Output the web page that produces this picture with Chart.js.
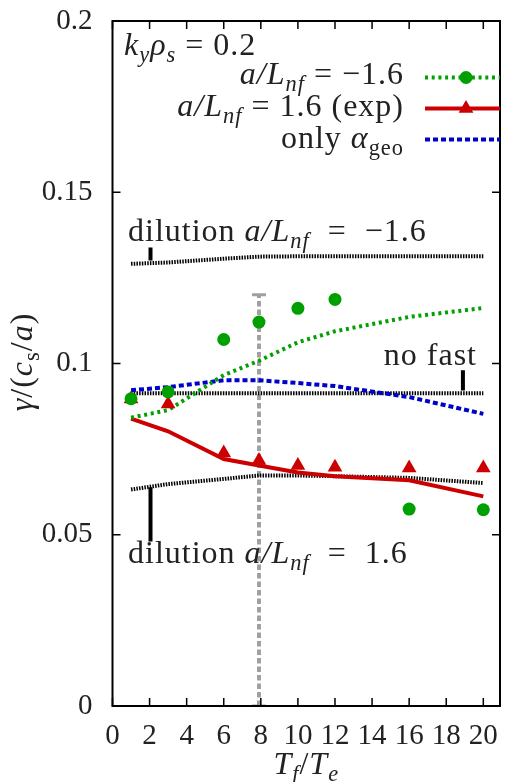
<!DOCTYPE html>
<html>
<head>
<meta charset="utf-8">
<script src="https://cdn.jsdelivr.net/npm/chart.js@4.4.1/dist/chart.umd.min.js"></script>
<style>
  html, body { margin: 0; padding: 0; background: #fff; }
</style>
</head>
<body>
<canvas id="growthChart" width="510" height="782"></canvas>
<script>
// ----- values -----
const tfOverTe = [1, 3, 6, 7.9, 10, 12, 16, 20];

// a/L_nf = -1.6 : line and simulation points
const gammaNegLine = [0.0842, 0.0864, 0.0966, 0.1008, 0.1062, 0.1094, 0.1136, 0.1162];
const gammaNegPts  = [0.0897, 0.0917, 0.1070, 0.1121, 0.1161, 0.1187, 0.0575, 0.0573];

// a/L_nf = 1.6 (exp) : line and simulation points
const gammaExpLine = [0.0839, 0.0802, 0.0721, 0.0702, 0.0682, 0.0671, 0.0659, 0.0612];
const gammaExpPts  = [0.0896, 0.0882, 0.0739, 0.0717, 0.0702, 0.0697, 0.0695, 0.0695];

// only alpha_geo
const gammaGeo = [0.0922, 0.0931, 0.0951, 0.0951, 0.0943, 0.0934, 0.0902, 0.0853];

// reference lines (black dotted)
const gammaNoFast  = [0.0913, 0.0913, 0.0913, 0.0913, 0.0913, 0.0913, 0.0913, 0.0913];
const gammaDilNeg  = [0.1291, 0.1295, 0.1306, 0.1312, 0.1313, 0.1313, 0.1313, 0.1313];
const gammaDilPos  = [0.0632, 0.0648, 0.0663, 0.0673, 0.0673, 0.0671, 0.0666, 0.0651];

// experimental T_f/T_e marker (grey dashed, with caps)
const expMarkX = [7.9, 7.9];
const expMarkY = [0, 0.1201];

// little pointer bars next to the labels
const ptrDilNegX = [2.05, 2.05], ptrDilNegY = [0.1301, 0.1339];
const ptrNoFastX = [18.9, 18.9], ptrNoFastY = [0.0921, 0.0980];
const ptrDilPosX = [2.05, 2.05], ptrDilPosY = [0.0480, 0.0639];

// axes
const xTicks = [0, 2, 4, 6, 8, 10, 12, 14, 16, 18, 20];
const yTicks = [0, 0.05, 0.1, 0.15, 0.2];
const yTickLabels = ['0', '0.05', '0.1', '0.15', '0.2'];

// ----- colours -----
const GREEN = '#00a000';
const RED = '#cc0000';
const BLUE = '#0000cc';
const GREY = '#a0a0a0';
const INK = '#222';
const SERIF = '"Liberation Serif", "Times New Roman", serif';

const pts = (xs, ys) => xs.map((x, i) => ({ x: x, y: ys[i] }));

// draw a run of text pieces, some italic, some subscript
function drawRich(ctx, parts, x, y, align, size) {
  const fontFor = p => (p.it ? 'italic ' : '') + (p.sub ? size * 0.7 : size) + 'px ' + SERIF;
  let w = 0;
  parts.forEach(p => { ctx.font = fontFor(p); w += ctx.measureText(p.t).width; });
  let cx = align === 'right' ? x - w : align === 'center' ? x - w / 2 : x;
  ctx.textAlign = 'left';
  ctx.textBaseline = 'alphabetic';
  parts.forEach(p => {
    ctx.font = fontFor(p);
    ctx.fillText(p.t, cx, y + (p.sub ? size * 0.22 : 0));
    cx += ctx.measureText(p.t).width;
  });
}

const legendItems = [
  { parts: [{ t: 'a/L', it: true }, { t: 'nf', it: true, sub: true }, { t: ' = −1.6' }],
    color: GREEN, width: 4, dash: [3, 3.7], marker: 'circle', y: 77.5, base: 84 },
  { parts: [{ t: 'a/L', it: true }, { t: 'nf', it: true, sub: true }, { t: ' = 1.6 (exp)' }],
    color: RED, width: 4, dash: [], marker: 'triangle', y: 108.5, base: 116 },
  { parts: [{ t: 'only ' }, { t: 'α', it: true }, { t: 'geo', sub: true }],
    color: BLUE, width: 4, dash: [5, 3], marker: null, y: 139.5, base: 148 }
];

const framePlugin = {
  id: 'frame',
  afterDatasetsDraw(chart) {
    const ctx = chart.ctx;
    const a = chart.chartArea;
    const xs = chart.scales.x, ys = chart.scales.y;
    ctx.save();

    // box
    ctx.strokeStyle = '#000';
    ctx.lineWidth = 2;
    ctx.setLineDash([]);
    ctx.strokeRect(a.left, a.top, a.right - a.left, a.bottom - a.top);

    // inward ticks on all four sides
    ctx.lineWidth = 1.5;
    ctx.beginPath();
    xTicks.forEach(v => {
      const px = xs.getPixelForValue(v);
      ctx.moveTo(px, a.bottom); ctx.lineTo(px, a.bottom - 8);
      ctx.moveTo(px, a.top); ctx.lineTo(px, a.top + 8);
    });
    yTicks.forEach(v => {
      const py = ys.getPixelForValue(v);
      ctx.moveTo(a.left, py); ctx.lineTo(a.left + 8, py);
      ctx.moveTo(a.right, py); ctx.lineTo(a.right - 8, py);
    });
    ctx.stroke();

    // texts
    ctx.fillStyle = INK;
    ctx.letterSpacing = '1px';
    drawRich(ctx, [{ t: 'k', it: true }, { t: 'y', it: true, sub: true }, { t: 'ρ', it: true },
      { t: 's', it: true, sub: true }, { t: ' = 0.2' }], 124, 55, 'left', 32);
    drawRich(ctx, [{ t: 'dilution ' }, { t: 'a/L', it: true }, { t: 'nf', it: true, sub: true },
      { t: '  =  −1.6' }], 128, 241, 'left', 32);
    drawRich(ctx, [{ t: 'dilution ' }, { t: 'a/L', it: true }, { t: 'nf', it: true, sub: true },
      { t: '  =  1.6' }], 128, 563, 'left', 32);
    drawRich(ctx, [{ t: 'no fast' }], 477, 365, 'right', 32);

    // legend
    legendItems.forEach(it => {
      ctx.fillStyle = INK;
      drawRich(ctx, it.parts, 404, it.base, 'right', 32);
      ctx.strokeStyle = it.color;
      ctx.lineWidth = it.width;
      ctx.setLineDash(it.dash);
      ctx.beginPath();
      ctx.moveTo(425, it.y);
      ctx.lineTo(a.right, it.y);
      ctx.stroke();
      ctx.setLineDash([]);
      ctx.fillStyle = it.color;
      if (it.marker === 'circle') {
        ctx.beginPath();
        ctx.arc(466, it.y, 6.5, 0, Math.PI * 2);
        ctx.fill();
      } else if (it.marker === 'triangle') {
        const r = 8.5;
        ctx.beginPath();
        ctx.moveTo(466, it.y - r);
        ctx.lineTo(466 + r * 0.866, it.y + r / 2);
        ctx.lineTo(466 - r * 0.866, it.y + r / 2);
        ctx.closePath();
        ctx.fill();
      }
    });

    // axis titles
    ctx.fillStyle = INK;
    drawRich(ctx, [{ t: 'T', it: true }, { t: 'f', it: true, sub: true }, { t: '/' },
      { t: 'T', it: true }, { t: 'e', it: true, sub: true }], (a.left + a.right) / 2, 774, 'center', 32);
    ctx.save();
    ctx.translate(32, 362);
    ctx.rotate(-Math.PI / 2);
    drawRich(ctx, [{ t: 'γ', it: true }, { t: '/(' }, { t: 'c', it: true }, { t: 's', sub: true },
      { t: '/' }, { t: 'a', it: true }, { t: ')' }], 0, 0, 'center', 32);
    ctx.restore();

    ctx.restore();
  }
};

const lineSet = (label, ys, color, width, dash, order) => ({
  label: label,
  data: pts(tfOverTe, ys),
  showLine: true,
  borderColor: color,
  borderWidth: width,
  borderDash: dash,
  pointRadius: 0,
  fill: false,
  tension: 0,
  order: order
});

const ptrSet = (label, xs, ys) => ({
  label: label,
  data: pts(xs, ys),
  showLine: true,
  borderColor: '#000',
  borderWidth: 4,
  pointRadius: 0,
  order: 6
});

new Chart(document.getElementById('growthChart').getContext('2d'), {
  type: 'scatter',
  data: {
    datasets: [
      {
        label: 'a/Lnf = -1.6 (points)',
        data: pts(tfOverTe, gammaNegPts),
        showLine: false,
        pointStyle: 'circle',
        pointRadius: 6.5,
        pointBackgroundColor: GREEN,
        pointBorderWidth: 0,
        order: 1
      },
      {
        label: 'a/Lnf = 1.6 (exp) (points)',
        data: pts(tfOverTe, gammaExpPts),
        showLine: false,
        pointStyle: 'triangle',
        pointRadius: 8.5,
        pointBackgroundColor: RED,
        pointBorderWidth: 0,
        order: 2
      },
      lineSet('a/Lnf = -1.6', gammaNegLine, GREEN, 4, [3, 3.7], 3),
      lineSet('a/Lnf = 1.6 (exp)', gammaExpLine, RED, 4, [], 4),
      lineSet('only alpha_geo', gammaGeo, BLUE, 4, [5, 3], 5),
      lineSet('no fast', gammaNoFast, '#000', 4, [1.5, 1.2], 6),
      lineSet('dilution -1.6', gammaDilNeg, '#000', 4, [1.5, 1.2], 6),
      lineSet('dilution 1.6', gammaDilPos, '#000', 4, [1.5, 1.2], 6),
      ptrSet('ptr dilution -1.6', ptrDilNegX, ptrDilNegY),
      ptrSet('ptr no fast', ptrNoFastX, ptrNoFastY),
      ptrSet('ptr dilution 1.6', ptrDilPosX, ptrDilPosY),
      {
        label: 'experimental Tf/Te',
        data: pts(expMarkX, expMarkY),
        showLine: true,
        borderColor: GREY,
        borderWidth: 4,
        borderDash: [5.5, 3],
        pointStyle: 'line',
        pointRadius: 7,
        pointBorderColor: GREY,
        pointBorderWidth: 3,
        order: 7
      }
    ]
  },
  options: {
    responsive: false,
    animation: false,
    events: [],
    layout: { padding: { top: 21, right: 5.5, left: 0, bottom: 0 } },
    plugins: {
      legend: { display: false },
      tooltip: { enabled: false }
    },
    scales: {
      x: {
        type: 'linear',
        min: 0,
        max: 20.9,
        afterBuildTicks: s => { s.ticks = xTicks.map(v => ({ value: v })); },
        afterFit: s => { s.height = 76; },
        grid: { display: false, drawTicks: false },
        border: { display: false },
        ticks: {
          color: INK,
          // padding 0 so the last label does not shrink the box; the tall
          // line height pushes the labels down instead
          padding: 0,
          maxRotation: 0,
          autoSkip: false,
          font: { family: SERIF, size: 29, lineHeight: 2.08 },
          callback: v => String(v)
        }
      },
      y: {
        type: 'linear',
        min: 0,
        max: 0.2,
        afterBuildTicks: s => { s.ticks = yTicks.map(v => ({ value: v })); },
        afterFit: s => { s.width = 112.5; },
        grid: { display: false, drawTicks: false },
        border: { display: false },
        ticks: {
          color: INK,
          padding: 20,
          // tiny line height keeps the top label from pushing the box down
          font: { family: SERIF, size: 29, lineHeight: 0.02 },
          callback: v => yTickLabels[yTicks.indexOf(v)]
        }
      }
    }
  },
  plugins: [framePlugin]
});
</script>
</body>
</html>
